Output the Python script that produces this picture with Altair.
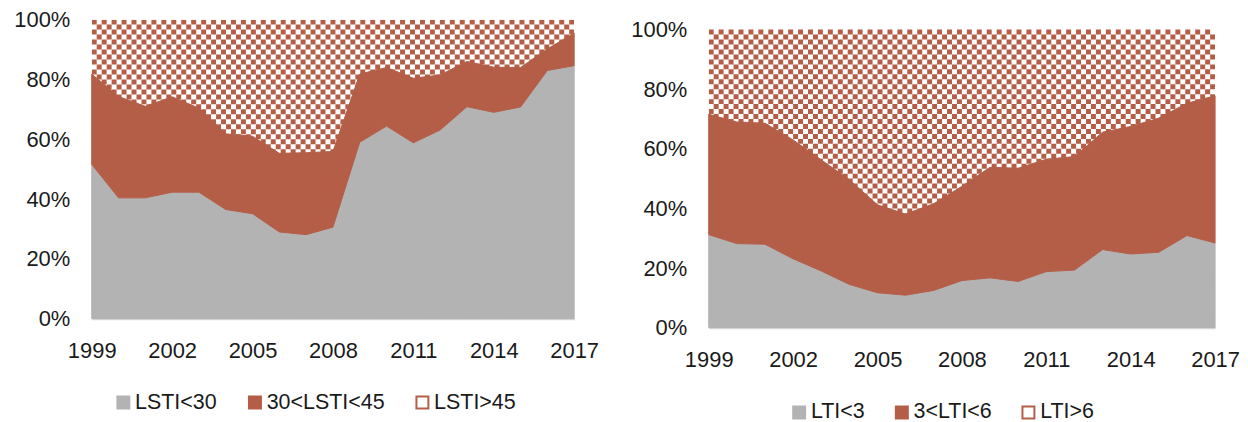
import altair as alt
import pandas as pd

years = list(range(1999, 2018))

lsti_labels = ["LSTI<30", "30<LSTI<45", "LSTI>45"]
lsti_low = [51.6, 40.4, 40.4, 42.3, 42.3, 36.5, 35.1, 29.0, 28.1, 30.6,
            59.0, 64.4, 58.8, 63.1, 70.9, 69.0, 70.8, 83.0, 84.6]
lsti_mid = [30.2, 33.9, 30.6, 31.9, 28.1, 25.3, 25.9, 26.3, 27.4, 25.3,
            22.8, 19.6, 21.6, 18.4, 15.1, 15.1, 13.2, 7.2, 10.9]
lsti_high = [18.2, 25.7, 29.0, 25.8, 29.6, 38.2, 39.0, 44.7, 44.5, 44.1,
             18.2, 16.0, 19.6, 18.5, 14.0, 15.9, 16.0, 9.8, 4.5]

lti_labels = ["LTI<3", "3<LTI<6", "LTI>6"]
lti_low = [31.2, 28.2, 28.0, 23.1, 19.0, 14.5, 11.7, 10.9, 12.5, 15.8,
           16.7, 15.5, 18.8, 19.3, 26.2, 24.7, 25.3, 30.9, 28.4]
lti_mid = [40.4, 40.8, 40.6, 39.9, 37.3, 35.1, 29.5, 27.2, 29.1, 31.6,
           37.1, 38.0, 37.7, 38.1, 39.4, 42.8, 45.0, 44.4, 49.4]
lti_high = [28.4, 31.0, 31.4, 37.0, 43.7, 50.4, 58.8, 61.9, 58.4, 52.6,
            46.2, 46.5, 43.5, 42.6, 34.4, 32.5, 29.7, 24.7, 22.2]

x_ticks = [1999, 2002, 2005, 2008, 2011, 2014, 2017]
y_ticks = [0, 20, 40, 60, 80, 100]

GRAY = "#b3b3b3"
RED = "#b45e48"
TEXT = "#1a1a1a"
FONT = "Liberation Sans"


def panel(labels, series, width, height, top_gap, ncols, nrows, lx, ly, colpad):
    rows = []
    for i, yr in enumerate(years):
        lo = 0.0
        for lab, vals in zip(labels, series):
            top = lo + vals[i]
            rows.append({"year": yr, "series": lab, "lo": lo, "hi": top})
            lo = top
    df = pd.DataFrame(rows)
    df = df[df["series"] != labels[2]]

    full_h = height + top_gap
    xs = alt.Scale(domain=[years[0], years[-1]], nice=False, zero=False)
    ys = alt.Scale(domain=[0, 100], nice=False, zero=True, range=[full_h, top_gap])
    xaxis = alt.Axis(values=x_ticks, format="d", title=None, ticks=False, grid=False,
                     labelFontSize=22, labelFont=FONT, labelColor=TEXT, labelPadding=22,
                     domainColor="#d9d9d9", domainWidth=2, labelOverlap=False,
                     labelFlush=False)
    yaxis = alt.Axis(values=y_ticks, labelExpr="datum.value + '%'", title=None,
                     ticks=False, grid=False, domain=False, labelFontSize=22,
                     labelFont=FONT, labelColor=TEXT, labelPadding=22)

    dx = (years[-1] - years[0]) / ncols
    dy = 100.0 / nrows
    checker = (
        alt.Chart(alt.sequence(0, ncols * nrows, as_="k"))
        .transform_calculate(i=f"floor(datum.k / {nrows})", j=f"datum.k % {nrows}")
        .transform_filter("(datum.i + datum.j) % 2 == 0")
        .transform_calculate(
            x0=f"{years[0]} + datum.i * {dx}",
            x1=f"{years[0]} + (datum.i + 1) * {dx}",
            y0=f"100 - (datum.j + 1) * {dy}",
            y1=f"100 - datum.j * {dy}",
        )
        .mark_rect(color=RED, clip=True, strokeWidth=0)
        .encode(
            x=alt.X("x0:Q", scale=xs, axis=xaxis),
            x2="x1:Q",
            y=alt.Y("y0:Q", scale=ys, axis=yaxis),
            y2="y1:Q",
        )
    )

    leg = alt.Legend(title=None, orient="none", legendX=lx, legendY=ly,
                     direction="horizontal", symbolType="square", symbolSize=144,
                     symbolStrokeWidth=2, labelFontSize=21.5, labelFont=FONT,
                     labelColor=TEXT, labelOffset=1, columnPadding=colpad,
                     padding=0, symbolOpacity=1, labelLimit=300)
    areas = (
        alt.Chart(df)
        .mark_area(opacity=1, strokeWidth=1, interpolate="linear")
        .encode(
            x=alt.X("year:Q", scale=xs, axis=xaxis),
            y=alt.Y("hi:Q", scale=ys, axis=yaxis),
            y2="lo:Q",
            fill=alt.Fill("series:N", scale=alt.Scale(domain=labels, range=[GRAY, RED, "#ffffff"]),
                          legend=leg),
            stroke=alt.Stroke("series:N", scale=alt.Scale(domain=labels, range=[GRAY, RED, RED]),
                              legend=leg),
        )
    )
    return alt.layer(checker, areas).properties(width=width, height=full_h)


left = panel(lsti_labels, [lsti_low, lsti_mid, lsti_high], 484, 300, 0, 97, 60, 21, 373, 27)
right = panel(lti_labels, [lti_low, lti_mid, lti_high], 508, 299, 10, 102, 60, 80, 383, 26)

chart = (
    alt.hconcat(left, right, spacing=31)
    .resolve_scale(fill="independent", stroke="independent")
    .resolve_legend(fill="independent", stroke="independent")
    .properties(padding={"left": 5, "top": 0, "right": 0, "bottom": 0}, background="white")
    .configure_view(stroke=None)
)

chart.save("out.html", embed_options={"renderer": "svg", "actions": False})
